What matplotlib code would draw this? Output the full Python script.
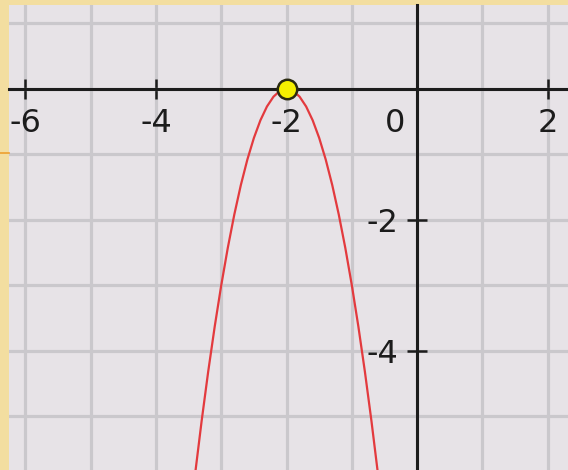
import matplotlib.pyplot as plt
from matplotlib.lines import Line2D
from matplotlib.transforms import ScaledTranslation

# parabola points (vertex at (-2, 0))
curve_x = [-3.5, -3.4, -3.3, -3.2, -3.1, -3.0, -2.9, -2.8, -2.7, -2.6, -2.5, -2.4, -2.3, -2.2, -2.1,
           -2.0, -1.9, -1.8, -1.7, -1.6, -1.5, -1.4, -1.3, -1.2, -1.1, -1.0, -0.9, -0.8, -0.7, -0.6, -0.5]
curve_y = [-6.75, -5.88, -5.07, -4.32, -3.63, -3.0, -2.43, -1.92, -1.47, -1.08, -0.75, -0.48, -0.27, -0.12, -0.03,
           0.0, -0.03, -0.12, -0.27, -0.48, -0.75, -1.08, -1.47, -1.92, -2.43, -3.0, -3.63, -4.32, -5.07, -5.88, -6.75]
vertex = (-2, 0)

x_ticks = [-6, -4, -2, 0, 2]
x_labels = ['-6', '-4', '-2', '0', '2']
y_ticks = [-4, -2]
y_labels = ['-4', '-2']

W, H = 568, 470
fig = plt.figure(figsize=(W / 100, H / 100), dpi=100, facecolor='#f3dea0')
ax = fig.add_axes([9 / W, 0, (W - 9) / W, (H - 5) / H])
ax.set_facecolor('#e7e3e7')

# grid every unit
ax.set_xticks(range(-7, 3), minor=True)
ax.set_yticks(range(-6, 2), minor=True)
ax.grid(True, which='both', color='#cac8cc', linewidth=2.3)
ax.set_axisbelow(True)

# axes through the origin
for s in ['top', 'right']:
    ax.spines[s].set_visible(False)
ax.spines['left'].set_position(('data', 0))
ax.spines['bottom'].set_position(('data', 0))
for s in ['left', 'bottom']:
    ax.spines[s].set_color('#1c1c1c')
    ax.spines[s].set_linewidth(2.2)
    ax.spines[s].set_zorder(2)

ax.set_xticks(x_ticks)
ax.set_xticklabels(x_labels)
ax.set_yticks(y_ticks)
ax.set_yticklabels(y_labels)
ax.tick_params(which='major', direction='inout', length=15, width=1.8, color='#1c1c1c',
               labelsize=23, labelcolor='#1c1c1c', pad=6)
ax.tick_params(which='minor', length=0)

# the "0" label sits left of the y axis
for lab in ax.get_xticklabels():
    if lab.get_text() == '0':
        lab.set_transform(lab.get_transform() + ScaledTranslation(-0.22, 0, fig.dpi_scale_trans))

ax.plot(curve_x, curve_y, color='#e33a3e', linewidth=1.6, zorder=3)
ax.plot([vertex[0]], [vertex[1]], 'o', markersize=14, markerfacecolor='#f5f000',
        markeredgecolor='#2a2a10', markeredgewidth=1.8, zorder=4, clip_on=False)

ax.set_xlim(-6.25, 2.31)
ax.set_ylim(-5.82, 1.28)

# slide decoration on the left edge
fig.add_artist(Line2D([0, 9 / W], [1 - 153 / H, 1 - 153 / H], color='#eda030', linewidth=1.2))

fig.savefig('out.png', dpi=100, facecolor=fig.get_facecolor())
